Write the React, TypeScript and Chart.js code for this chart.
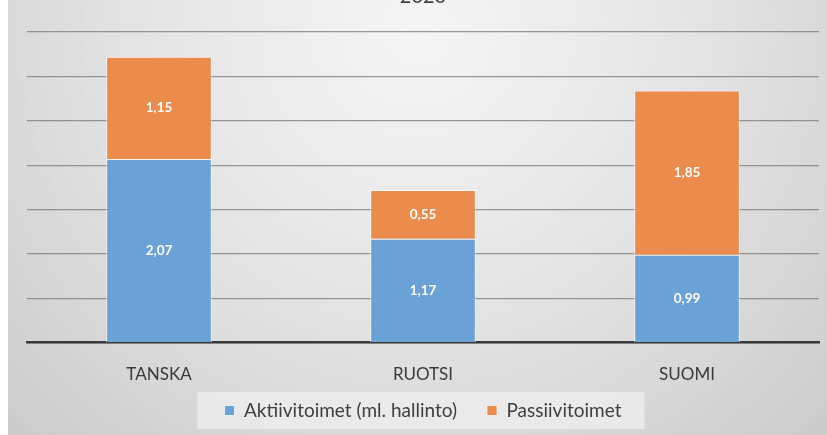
import React, { useEffect, useRef } from "react";
import { Chart, registerables } from "chart.js";

Chart.register(...registerables);

const categories = ["TANSKA", "RUOTSI", "SUOMI"];
const activeValues = [2.07, 1.17, 0.99];
const passiveValues = [1.15, 0.55, 1.85];
const seriesNames = ["Aktiivitoimet (ml. hallinto)", "Passiivitoimet"];
const titleText = "2020";

const FONT = "Lato, 'Open Sans', sans-serif";

const backgroundPlugin = {
  id: "bgPlugin",
  beforeDraw(chart: any) {
    const { ctx, width, height } = chart;
    ctx.save();
    const g = ctx.createRadialGradient(width * 0.5, 30, 0, width * 0.5, 30, 640);
    g.addColorStop(0, "#f5f5f5");
    g.addColorStop(0.45, "#e3e3e3");
    g.addColorStop(1, "#c6c6c6");
    ctx.fillStyle = g;
    ctx.fillRect(0, 0, width, height);
    const legend = chart.legend;
    if (legend && legend.legendHitBoxes && legend.legendHitBoxes.length) {
      const boxes = legend.legendHitBoxes;
      let l = Infinity, r = -Infinity, t = Infinity, b = -Infinity;
      boxes.forEach((h: any) => {
        l = Math.min(l, h.left);
        r = Math.max(r, h.left + h.width);
        t = Math.min(t, h.top);
        b = Math.max(b, h.top + h.height);
      });
      ctx.fillStyle = "rgba(236,236,236,0.85)";
      ctx.fillRect(l - 27, t - 9, r - l + 50, b - t + 18);
    }
    ctx.restore();
  },
};

const labelPlugin = {
  id: "labelPlugin",
  afterDatasetsDraw(chart: any) {
    const { ctx } = chart;
    ctx.save();
    ctx.font = `bold 13.5px ${FONT}`;
    ctx.fillStyle = "#ffffff";
    ctx.textAlign = "center";
    ctx.textBaseline = "middle";
    chart.data.datasets.forEach((ds: any, di: number) => {
      const meta = chart.getDatasetMeta(di);
      meta.data.forEach((el: any, i: number) => {
        const v = ds.data[i];
        const y = (el.y + el.base) / 2;
        ctx.fillText(v.toFixed(2).replace(".", ","), el.x, y);
      });
    });
    const ca = chart.chartArea;
    ctx.font = `20px ${FONT}`;
    ctx.fillStyle = "#404040";
    ctx.textBaseline = "alphabetic";
    ctx.fillText(titleText, (ca.left + ca.right) / 2, 3);
    ctx.restore();
  },
};

export default function App() {
  const ref = useRef<HTMLCanvasElement | null>(null);
  useEffect(() => {
    if (!ref.current) return;
    const chart = new Chart(ref.current, {
      type: "bar",
      data: {
        labels: categories,
        datasets: [
          {
            label: seriesNames[0],
            data: activeValues,
            backgroundColor: "#6aa2d7",
            borderColor: "rgba(255,255,255,0.7)",
            borderWidth: 1,
            barPercentage: 0.4,
            categoryPercentage: 1,
          },
          {
            label: seriesNames[1],
            data: passiveValues,
            backgroundColor: "#eb8b4c",
            borderColor: "rgba(255,255,255,0.7)",
            borderWidth: 1,
            barPercentage: 0.4,
            categoryPercentage: 1,
          },
        ],
      },
      options: {
        responsive: false,
        animation: false,
        layout: { padding: { top: 32, left: 19, right: 8, bottom: 5 } },
        plugins: {
          title: { display: false },
          tooltip: { enabled: false },
          legend: {
            position: "bottom",
            labels: {
              boxWidth: 10,
              boxHeight: 10,
              padding: 30,
              color: "#404040",
              font: { family: FONT, size: 19 },
            },
          },
        },
        scales: {
          x: {
            stacked: true,
            grid: { display: false },
            border: { display: true, color: "#3a3a3a", width: 2.5 },
            ticks: {
              color: "#3a3a3a",
              font: { family: FONT, size: 17 },
              padding: 14,
            },
            afterFit: (scale: any) => {
              scale.height -= 28;
              scale._computeLabelArea = () => undefined;
            },
          },
          y: {
            stacked: true,
            min: 0,
            max: 3.5,
            ticks: { display: false, stepSize: 0.5 },
            grid: { color: "rgba(120,120,120,0.75)", lineWidth: 1.2, drawTicks: false },
            border: { display: false },
          },
        },
      },
      plugins: [backgroundPlugin, labelPlugin],
    });
    return () => chart.destroy();
  }, []);
  return (
    <div style={{ position: "absolute", left: 8, top: 0, width: 819, height: 435 }}>
      <canvas ref={ref} width={819} height={435} style={{ display: "block" }} />
    </div>
  );
}
